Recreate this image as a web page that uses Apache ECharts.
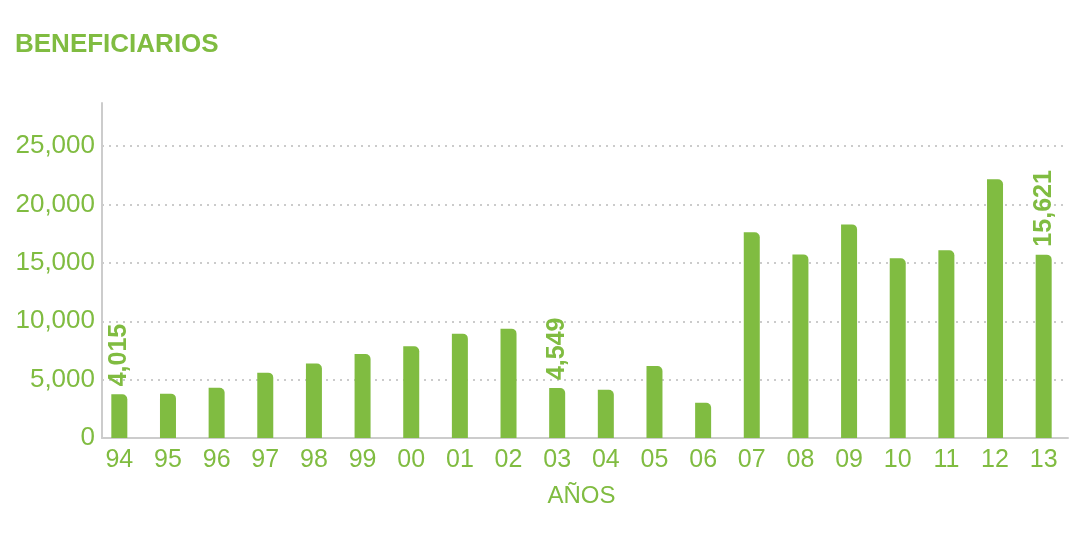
<!DOCTYPE html>
<html>
<head>
<meta charset="utf-8">
<script src="https://cdn.jsdelivr.net/npm/echarts@6/dist/echarts.min.js"></script>
<style>html,body{margin:0;padding:0;background:#fff}#c{width:1080px;height:534px}</style>
</head>
<body>
<div id="c"></div>
<script>
var categories = ['94','95','96','97','98','99','00','01','02','03','04','05','06','07','08','09','10','11','12','13'];
var values = [3740, 3800, 4310, 5600, 6390, 7190, 7850, 8940, 9370, 4280, 4140, 6160, 3025, 17620, 15730, 18300, 15390, 16080, 22160, 15710];
var labelTexts = ['4,015','','','','','','','','','4,549','','','','','','','','','','15,621'];
var yTicks = [0, 5000, 10000, 15000, 20000, 25000];

var green = '#80BC41';
var font = 'Liberation Sans';
var chart = echarts.init(document.getElementById('c'));
chart.setOption({
  animation: false,
  title: {
    text: 'BENEFICIARIOS', left: 10, top: 27,
    textStyle: {color: green, fontSize: 26, fontWeight: 'bold', fontFamily: font}
  },
  grid: [
    {left: 95, right: 12, top: 103, bottom: 96},
    {left: 102, right: 12, top: 103, bottom: 96}
  ],
  xAxis: [{
    type: 'category', data: categories, gridIndex: 0,
    axisLine: {show: false},
    axisTick: {show: false},
    axisLabel: {color: green, fontSize: 25, fontFamily: font, margin: 10},
    name: 'AÑOS', nameLocation: 'middle', nameGap: 46,
    nameTextStyle: {color: green, fontSize: 24, fontFamily: font}
  }, {
    type: 'value', gridIndex: 1, min: 0, max: 1,
    axisLine: {show: true, lineStyle: {color: '#cccccc', width: 2}},
    axisTick: {show: false}, axisLabel: {show: false}, splitLine: {show: false}
  }],
  yAxis: [{
    type: 'value', gridIndex: 0, min: 0, max: 28700,
    axisLine: {show: false}, axisTick: {show: false}, axisLabel: {show: false}, splitLine: {show: false}
  }, {
    type: 'value', gridIndex: 1, min: 0, max: 28700, interval: 5000,
    axisLine: {show: true, lineStyle: {color: '#cccccc', width: 2}},
    axisTick: {show: false},
    axisLabel: {
      color: green, fontSize: 26, fontFamily: font, margin: 7, showMaxLabel: false,
      formatter: function (v) { return yTicks.indexOf(v) >= 0 ? v.toLocaleString('en-US') : ''; }
    },
    splitLine: {show: true, showMinLine: false, showMaxLine: false, lineStyle: {color: '#bbbbbb', width: 1.5, type: [2, 5]}}
  }],
  series: [{
    type: 'bar', data: values, barWidth: 16, xAxisIndex: 0, yAxisIndex: 0,
    itemStyle: {color: green, borderRadius: [0, 5, 0, 0]},
    label: {
      show: true, position: 'top', rotate: 90, align: 'left', verticalAlign: 'middle', distance: 8,
      color: green, fontSize: 25, fontWeight: 'bold', fontFamily: font,
      formatter: function (p) { return labelTexts[p.dataIndex]; }
    }
  }]
});
</script>
</body>
</html>
